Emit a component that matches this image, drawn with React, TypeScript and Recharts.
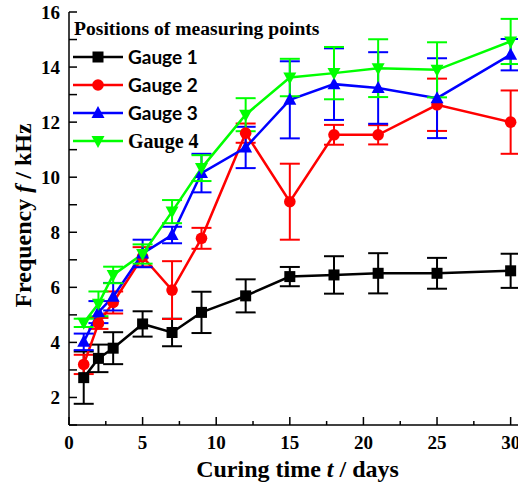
import React from 'react';
import { LineChart, Line, XAxis, YAxis, ErrorBar, Legend, Label } from 'recharts';

// curing time (days) and measured frequency (kHz) per gauge, with error bar half-widths
const days = [1, 2, 3, 5, 7, 9, 12, 15, 18, 21, 25, 30];
const gauge1 = [2.72, 3.42, 3.79, 4.67, 4.36, 5.09, 5.69, 6.39, 6.45, 6.51, 6.51, 6.6];
const gauge1Err = [0.95, 0.5, 0.58, 0.46, 0.5, 0.75, 0.6, 0.35, 0.68, 0.73, 0.56, 0.62];
const gauge2 = [3.2, 4.69, 5.45, 7.11, 5.9, 7.78, 11.6, 9.11, 11.54, 11.54, 12.63, 12.0];
const gauge2Err = [0.35, 0.2, 0.4, 0.35, 1.05, 0.38, 0.35, 1.38, 0.36, 0.35, 0.95, 1.15];
const gauge3 = [4.02, 5.1, 5.66, 7.23, 7.9, 10.15, 11.08, 12.81, 13.38, 13.24, 12.87, 14.45];
const gauge3Err = [0.3, 0.4, 0.5, 0.5, 0.3, 0.7, 0.75, 1.4, 1.3, 1.3, 1.45, 0.57];
const gauge4 = [4.71, 5.4, 6.45, 7.21, 8.75, 10.33, 12.27, 13.62, 13.78, 13.96, 13.9, 14.93];
const gauge4Err = [0.15, 0.45, 0.3, 0.35, 0.42, 0.47, 0.6, 0.68, 0.95, 1.05, 1.0, 0.82];

const xTicks = [0, 2.5, 5, 7.5, 10, 12.5, 15, 17.5, 20, 22.5, 25, 27.5, 30];
const yTicks = [1, 2, 3, 4, 5, 6, 7, 8, 9, 10, 11, 12, 13, 14, 15, 16];
const legendTitle = 'Positions of measuring points';

const series = [
  { key: 'g1', err: 'e1', name: 'Gauge 1', color: '#000000', shape: 'square' },
  { key: 'g2', err: 'e2', name: 'Gauge 2', color: '#ff0000', shape: 'circle' },
  { key: 'g3', err: 'e3', name: 'Gauge 3', color: '#0000ff', shape: 'up' },
  { key: 'g4', err: 'e4', name: 'Gauge 4', color: '#00ff00', shape: 'down' },
];

const data = days.map((d, i) => ({
  day: d,
  g1: gauge1[i],
  e1: gauge1Err[i],
  g2: gauge2[i],
  e2: gauge2Err[i],
  g3: gauge3[i],
  e3: gauge3Err[i],
  g4: gauge4[i],
  e4: gauge4Err[i],
}));

const SERIF = '"Liberation Serif", "Times New Roman", serif';
const SANS = 'Lato, "Open Sans", sans-serif';
const X_TICK_MARGIN = 10;

const Marker = ({ cx, cy, shape, color }: any) => {
  if (cx == null || cy == null) return null;
  if (shape === 'square') return <rect x={cx - 5.5} y={cy - 5.5} width={11} height={11} fill={color} />;
  if (shape === 'circle') return <circle cx={cx} cy={cy} r={5.8} fill={color} />;
  if (shape === 'up')
    return <polygon points={`${cx},${cy - 7} ${cx - 6.5},${cy + 5} ${cx + 6.5},${cy + 5}`} fill={color} />;
  return <polygon points={`${cx},${cy + 7} ${cx - 6.5},${cy - 5} ${cx + 6.5},${cy - 5}`} fill={color} />;
};

const XTick = (props: any) => {
  const { x, y, payload } = props;
  const v = payload.value;
  const major = v % 5 === 0;
  const axisY = y - X_TICK_MARGIN;
  return (
    <g>
      <line x1={x} x2={x} y1={axisY} y2={axisY - (major ? 8 : 4)} stroke="#000" strokeWidth={1.5} />
      {major && (
        <text x={x} y={axisY + 24} textAnchor="middle" fontFamily={SERIF} fontWeight="bold" fontSize={19} fill="#000">
          {v}
        </text>
      )}
    </g>
  );
};

const XTitle = (props: any) => {
  const { viewBox } = props;
  const cx = viewBox.x + viewBox.width / 2 + 4;
  return (
    <text x={cx} y={viewBox.y + 52} textAnchor="middle" fontFamily={SERIF} fontWeight="bold" fontSize={24} fill="#000">
      <tspan>Curing time </tspan>
      <tspan fontStyle="italic">t</tspan>
      <tspan> / days</tspan>
    </text>
  );
};

const YTitle = (props: any) => {
  const { viewBox } = props;
  const x = 31;
  const y = viewBox.y + viewBox.height / 2 - 3;
  return (
    <text
      x={x}
      y={y}
      transform={`rotate(-90 ${x} ${y})`}
      textAnchor="middle"
      fontFamily={SERIF}
      fontWeight="bold"
      fontSize={24}
      fill="#000"
    >
      <tspan>Frequency </tspan>
      <tspan fontStyle="italic">f</tspan>
      <tspan> / kHz</tspan>
    </text>
  );
};

const renderLegend = () => (
  <svg width={330} height={160}>
    <text x={74} y={35} fontFamily={SERIF} fontWeight="bold" fontSize={19.6} fill="#000">
      {legendTitle}
    </text>
    {series.map((s, i) => {
      const y = 57 + i * 28;
      const serif = i === 3;
      return (
        <g key={s.key}>
          <line x1={73} x2={123} y1={y} y2={y} stroke={s.color} strokeWidth={2.5} />
          <Marker cx={98} cy={y} shape={s.shape} color={s.color} />
          <text
            x={128}
            y={y + 7}
            fontFamily={serif ? SERIF : SANS}
            fontWeight="bold"
            fontSize={serif ? 20 : 19}
            fill="#000"
          >
            {s.name}
          </text>
        </g>
      );
    })}
  </svg>
);

export default function App() {
  return (
    <div style={{ position: 'absolute', left: 0, top: 0, background: '#fff' }}>
      <LineChart width={518} height={484} data={data} margin={{ top: 12, right: 0, bottom: 0, left: 0 }}>
        <XAxis
          dataKey="day"
          type="number"
          domain={[0, 30.5]}
          ticks={xTicks}
          interval={0}
          allowDataOverflow
          height={59}
          tickSize={0}
          tickMargin={X_TICK_MARGIN}
          tickLine={false}
          tick={<XTick />}
          axisLine={{ stroke: '#000', strokeWidth: 1.5 }}
        >
          <Label content={<XTitle />} />
        </XAxis>
        <XAxis
          xAxisId="top"
          orientation="top"
          dataKey="day"
          type="number"
          domain={[0, 30.5]}
          height={0}
          tick={false}
          tickLine={false}
          axisLine={{ stroke: '#000', strokeWidth: 1.5 }}
        />
        <YAxis
          type="number"
          domain={[1, 16]}
          ticks={yTicks}
          interval={0}
          allowDataOverflow
          width={69}
          tickSize={-8}
          tickMargin={17}
          tickFormatter={(v: number) => (v % 2 === 0 ? String(v) : '')}
          tick={{ fontFamily: SERIF, fontWeight: 'bold', fontSize: 19, fill: '#000' }}
          tickLine={{ stroke: '#000', strokeWidth: 1.5 }}
          axisLine={{ stroke: '#000', strokeWidth: 1.5 }}
        >
          <Label content={<YTitle />} />
        </YAxis>
        <Legend
          layout="horizontal"
          verticalAlign="middle"
          align="center"
          content={renderLegend}
          wrapperStyle={{ position: 'absolute', left: 0, top: 0, width: 330, height: 160 }}
        />
        {series.map((s) => (
          <Line
            key={s.key}
            dataKey={s.key}
            name={s.name}
            stroke={s.color}
            strokeWidth={2.5}
            isAnimationActive={false}
            dot={(p: any) => <Marker key={`${s.key}-${p.index}`} cx={p.cx} cy={p.cy} shape={s.shape} color={s.color} />}
            activeDot={false}
          >
            <ErrorBar dataKey={s.err} width={10} strokeWidth={2} stroke={s.color} direction="y" />
          </Line>
        ))}
      </LineChart>
    </div>
  );
}
